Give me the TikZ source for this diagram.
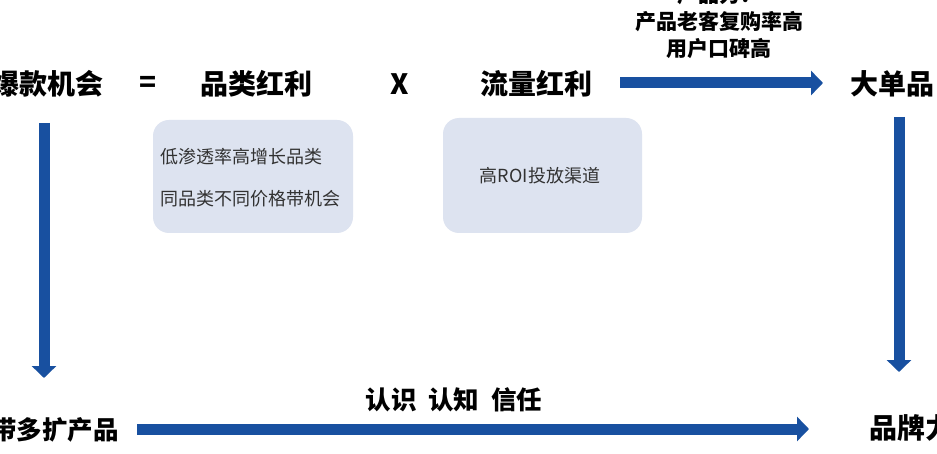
\documentclass[tikz,border=0pt]{standalone}
\usepackage{fontspec}
\setmainfont{Noto Sans CJK SC}
\usetikzlibrary{arrows.meta}
\definecolor{arrowblue}{RGB}{24,80,160}
\definecolor{boxfill}{RGB}{221,227,240}
\definecolor{boxtext}{RGB}{50,50,50}
\tikzset{
  head/.style={font=\bfseries\fontsize{28}{30}\selectfont, inner sep=0pt},
  subhead/.style={font=\bfseries\fontsize{25.5}{28}\selectfont, inner sep=0pt},
  note/.style={font=\fontsize{18}{20}\selectfont, text=boxtext, inner sep=0pt},
  softbox/.style={fill=boxfill, rounded corners=16pt, draw=none},
  bigarrow/.style={draw=arrowblue, line width=11pt, -{Triangle[length=12pt,width=24pt]}},
}
\begin{document}
\begin{tikzpicture}[x=1pt,y=-1pt]
\useasboundingbox (0,0) rectangle (937,454);
\clip (0,0) rectangle (937,454);
\fill[white] (0,0) rectangle (937,454);

% top row
\node[head, anchor=east] (opp) at (104,84) {爆款机会};
\node[head] (eq) at (148,84) {=};
\node[head] (cat) at (256,84) {品类红利};
\node[head] (times) at (400,84) {X};
\node[head] (flow) at (536,84) {流量红利};
\node[head, anchor=west] (big) at (850,84) {大单品};

% boxes
\node[softbox, minimum width=200pt, minimum height=113pt] (box1) at (253,176.5) {};
\node[note, anchor=west] (t1) at (160,157) {低渗透率高增长品类};
\node[note, anchor=west] (t2) at (160,199) {同品类不同价格带机会};
\node[softbox, minimum width=199pt, minimum height=115pt] (box2) at (542.5,175.5) {};
\node[note] (t3) at (540,176) {高ROI投放渠道};

% top-right label
\node[font=\bfseries\fontsize{21}{27}\selectfont, align=center, inner sep=0pt] (lab1) at (719,22) {产品力：\\产品老客复购率高\\用户口碑高};

% bottom row
\node[subhead, anchor=east] (more) at (119,430) {带多扩产品};
\node[head, anchor=west] (brand) at (869,428) {品牌力};
\node[subhead] (lab2) at (454,400) {认识\hspace{12pt}认知\hspace{12pt}信任};

% connectors
\coordinate (a1s) at (620,83);
\coordinate (a1e) at (823,83);
\draw[bigarrow] (a1s) -- (a1e);
\coordinate (a2s) at (44,123);
\coordinate (a2e) at (44,378);
\draw[bigarrow] (a2s) -- (a2e);
\coordinate (a3s) at (899,117);
\coordinate (a3e) at (899,372);
\draw[bigarrow] (a3s) -- (a3e);
\coordinate (a4s) at (137,429);
\coordinate (a4e) at (809,429);
\draw[bigarrow] (a4s) -- (a4e);
\end{tikzpicture}
\end{document}
